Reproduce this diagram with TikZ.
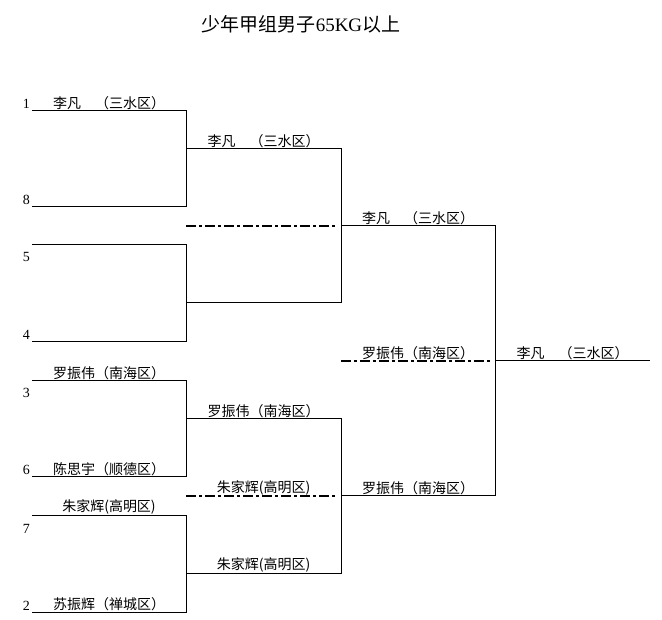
\documentclass[tikz,border=0pt]{standalone}
\usepackage{fontspec}
\usetikzlibrary{calc}
\setmainfont{Liberation Serif}
\newfontfamily\cjk{Noto Sans CJK SC}
\tikzset{
  bline/.style={line width=1pt, line join=miter},
  dline/.style={line width=2pt, dash pattern=on 10pt off 3pt on 3pt off 3pt},
  lab/.style={font=\cjk\fontsize{14}{14}\selectfont, anchor=south, inner sep=0pt, yshift=1pt},
  num/.style={font=\fontsize{14}{14}\selectfont, anchor=base east, inner sep=0pt},
  ttl/.style={font=\cjk\fontsize{19}{19}\selectfont, inner sep=0pt}
}
\begin{document}
\begin{tikzpicture}[x=1pt,y=-1pt]
\useasboundingbox (0,0) rectangle (662,620);
\node[ttl] (title) at (301,24) {少年甲组男子{\rmfamily 65KG}以上};
% round 1 coordinates
\foreach \n/\y in {a/111,b/207,c/245,d/342,e/381,f/477,g/515,h/612}{
  \coordinate (r1\n s) at (32,\y);
  \coordinate (r1\n e) at (186,\y);
}
\foreach \n/\y in {a/149,b/303,c/419,d/573}{
  \coordinate (r2\n s) at (186,\y);
  \coordinate (r2\n e) at (341,\y);
}
\foreach \n/\y in {a/226,b/496}{
  \coordinate (r3\n s) at (341,\y);
  \coordinate (r3\n e) at (495,\y);
  \coordinate (m2\n s) at (186,\y);
  \coordinate (m2\n e) at (338,\y);
}
\coordinate (fs) at (495,361);
\coordinate (fe) at (650,361);
\coordinate (m3s) at (341,361);
\coordinate (m3e) at (492,361);
% brackets
\draw[bline] (r1as) -- (r1ae) -- (r1be) -- (r1bs);
\draw[bline] (r1cs) -- (r1ce) -- (r1de) -- (r1ds);
\draw[bline] (r1es) -- (r1ee) -- (r1fe) -- (r1fs);
\draw[bline] (r1gs) -- (r1ge) -- (r1he) -- (r1hs);
\draw[bline] (r2as) -- (r2ae) -- (r2be) -- (r2bs);
\draw[bline] (r2cs) -- (r2ce) -- (r2de) -- (r2ds);
\draw[bline] (r3as) -- (r3ae) -- (r3be) -- (r3bs);
\draw[bline] (fs) -- (fe);
% dashed lines
\draw[dline] (m2as) -- (m2ae);
\draw[dline] (m2bs) -- (m2be);
\draw[dline] (m3s) -- (m3e);
% seed numbers
\node[num] (n1) at (30,109) {1};
\node[num] (n8) at (30,205) {8};
\node[num] (n5) at (30,262) {5};
\node[num] (n4) at (30,340) {4};
\node[num] (n3) at (30,398) {3};
\node[num] (n6) at (30,475) {6};
\node[num] (n7) at (30,533) {7};
\node[num] (n2) at (30,610) {2};
% labels
\node[lab] (l1a) at ($(r1as)!0.5!(r1ae)$) {李凡　（三水区）};
\node[lab] (l1e) at ($(r1es)!0.5!(r1ee)$) {罗振伟（南海区）};
\node[lab] (l1f) at ($(r1fs)!0.5!(r1fe)$) {陈思宇（顺德区）};
\node[lab] (l1g) at ($(r1gs)!0.5!(r1ge)$) {朱家辉(高明区)};
\node[lab] (l1h) at ($(r1hs)!0.5!(r1he)$) {苏振辉（禅城区）};
\node[lab] (l2a) at ($(r2as)!0.5!(r2ae)$) {李凡　（三水区）};
\node[lab] (l2c) at ($(r2cs)!0.5!(r2ce)$) {罗振伟（南海区）};
\node[lab] (l2m) at ($(m2bs)!0.5!(r2ce|-m2bs)$) {朱家辉(高明区)};
\node[lab] (l2d) at ($(r2ds)!0.5!(r2de)$) {朱家辉(高明区)};
\node[lab] (l3a) at ($(r3as)!0.5!(r3ae)$) {李凡　（三水区）};
\node[lab] (l3m) at ($(m3s)!0.5!(fs)$) {罗振伟（南海区）};
\node[lab] (l3b) at ($(r3bs)!0.5!(r3be)$) {罗振伟（南海区）};
\node[lab] (lf) at ($(fs)!0.5!(fe)$) {李凡　（三水区）};
\end{tikzpicture}
\end{document}
